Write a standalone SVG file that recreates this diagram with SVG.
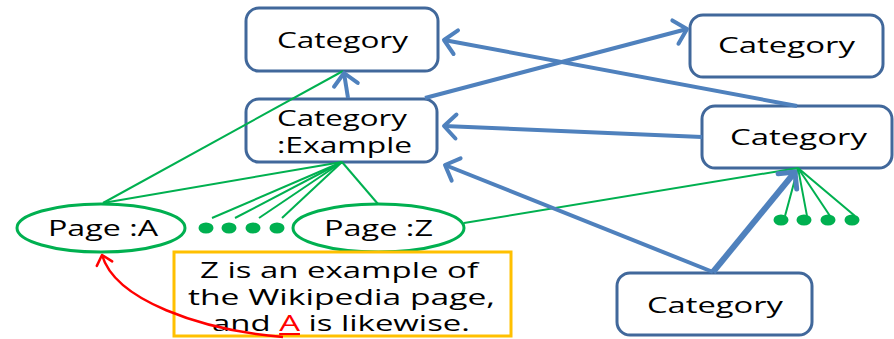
<svg xmlns="http://www.w3.org/2000/svg" width="894" height="339" viewBox="0 0 894 339">
<style>
.box{fill:#fff;stroke:#41689B;stroke-width:3}
.pg{fill:#fff;stroke:#00B050;stroke-width:3}
.t{font-family:"Open Sans","Liberation Sans",sans-serif;font-size:21px;fill:#000}
.bl{stroke:#4F81BD;stroke-width:4;fill:none;marker-end:url(#ab)}
.gr{stroke:#00B050;stroke-width:2;fill:none}
.dot{fill:#00B050}
</style>
<defs>
<marker id="ab" markerUnits="userSpaceOnUse" viewBox="0 0 18 28" markerWidth="18" markerHeight="28" refX="14" refY="14" orient="auto" overflow="visible">
<path d="M2,2 L14,14 L2,26" fill="none" stroke="#4F81BD" stroke-width="4" stroke-linecap="round" stroke-linejoin="round"/>
</marker>
<marker id="ab6" markerUnits="userSpaceOnUse" viewBox="0 0 18 28" markerWidth="18" markerHeight="28" refX="14" refY="14" orient="auto" overflow="visible">
<path d="M2,2 L14,14 L2,26" fill="none" stroke="#4F81BD" stroke-width="5" stroke-linecap="round" stroke-linejoin="round"/>
</marker>
<marker id="ar" markerUnits="userSpaceOnUse" viewBox="0 0 14 20" markerWidth="14" markerHeight="20" refX="11" refY="10" orient="auto" overflow="visible">
<path d="M2,2 L11,10 L2,18" fill="none" stroke="#FF0000" stroke-width="2.5" stroke-linecap="round" stroke-linejoin="round"/>
</marker>
</defs>
<rect width="894" height="339" fill="#fff"/>

<g id="cat-top">
<rect class="box" x="246" y="8" width="192" height="63" rx="13"/>
<text class="t" x="277" y="48" textLength="131" lengthAdjust="spacingAndGlyphs">Category</text>
</g>
<g id="cat-example">
<rect class="box" x="246" y="99" width="191" height="63" rx="13"/>
<text class="t" x="277" y="126" textLength="130" lengthAdjust="spacingAndGlyphs">Category</text>
<text class="t" x="277" y="153" textLength="135" lengthAdjust="spacingAndGlyphs">:Example</text>
</g>
<g id="cat-topright">
<rect class="box" x="690" y="15" width="193" height="62" rx="13"/>
<text class="t" x="718" y="53" textLength="137" lengthAdjust="spacingAndGlyphs">Category</text>
</g>
<g id="cat-right">
<rect class="box" x="702" y="106" width="190" height="62" rx="13"/>
<text class="t" x="730" y="145" textLength="137" lengthAdjust="spacingAndGlyphs">Category</text>
</g>
<g id="cat-bottom">
<rect class="box" x="617" y="273" width="195" height="62" rx="13"/>
<text class="t" x="647" y="313" textLength="136" lengthAdjust="spacingAndGlyphs">Category</text>
</g>
<g id="page-a">
<ellipse class="pg" cx="101" cy="228" rx="84" ry="24"/>
<text class="t" x="48" y="236" textLength="110" lengthAdjust="spacingAndGlyphs">Page :A</text>
</g>
<g id="page-z">
<ellipse class="pg" cx="378.5" cy="228" rx="85.5" ry="24"/>
<text class="t" x="324" y="236" textLength="109" lengthAdjust="spacingAndGlyphs">Page :Z</text>
</g>
<g id="note">
<rect x="174" y="252" width="337" height="84" fill="#fff" stroke="#FFC000" stroke-width="3"/>
<text class="t" x="200" y="278" textLength="278" lengthAdjust="spacingAndGlyphs">Z is an example of</text>
<text class="t" x="188" y="305" textLength="307" lengthAdjust="spacingAndGlyphs">the Wikipedia page,</text>
<text class="t" x="212" y="331" textLength="258" lengthAdjust="spacingAndGlyphs">and <tspan fill="#FF0000" text-decoration="underline">A</tspan> is likewise.</text>
</g>

<g id="connectors">
<line class="gr" x1="343" y1="71" x2="103" y2="203"/>
<line class="gr" x1="342" y1="162" x2="103" y2="203"/>
<line class="gr" x1="342" y1="162" x2="212" y2="218"/>
<line class="gr" x1="342" y1="162" x2="235" y2="218"/>
<line class="gr" x1="342" y1="162" x2="259" y2="218"/>
<line class="gr" x1="342" y1="162" x2="282" y2="218"/>
<line class="gr" x1="342" y1="162" x2="378" y2="204"/>
<line class="gr" x1="464" y1="223" x2="798" y2="168"/>
<line class="gr" x1="798" y1="168" x2="785" y2="216"/>
<line class="gr" x1="798" y1="168" x2="807" y2="216"/>
<line class="gr" x1="798" y1="168" x2="830" y2="216"/>
<line class="gr" x1="798" y1="168" x2="855" y2="216"/>
<ellipse class="dot" cx="206" cy="228" rx="7.5" ry="5.5"/>
<ellipse class="dot" cx="229" cy="228" rx="7.5" ry="5.5"/>
<ellipse class="dot" cx="253" cy="228" rx="7.5" ry="5.5"/>
<ellipse class="dot" cx="277" cy="228" rx="7.5" ry="5.5"/>
<ellipse class="dot" cx="781" cy="220" rx="7.5" ry="5.5"/>
<ellipse class="dot" cx="804" cy="220" rx="7.5" ry="5.5"/>
<ellipse class="dot" cx="828" cy="220" rx="7.5" ry="5.5"/>
<ellipse class="dot" cx="852" cy="220" rx="7.5" ry="5.5"/>
<line class="bl" x1="348" y1="98" x2="344" y2="73"/>
<line class="bl" x1="425" y1="98" x2="687" y2="29"/>
<line class="bl" x1="797" y1="106" x2="444" y2="40"/>
<line class="bl" x1="702" y1="137" x2="444" y2="126"/>
<line class="bl" x1="713" y1="272" x2="445" y2="165"/>
<line x1="713" y1="272" x2="795" y2="172" stroke="#4F81BD" stroke-width="6" marker-end="url(#ab6)"/>
<path d="M283,337 C200,330 115,300 102,255" fill="none" stroke="#FF0000" stroke-width="2.5" marker-end="url(#ar)"/>
</g>
</svg>
